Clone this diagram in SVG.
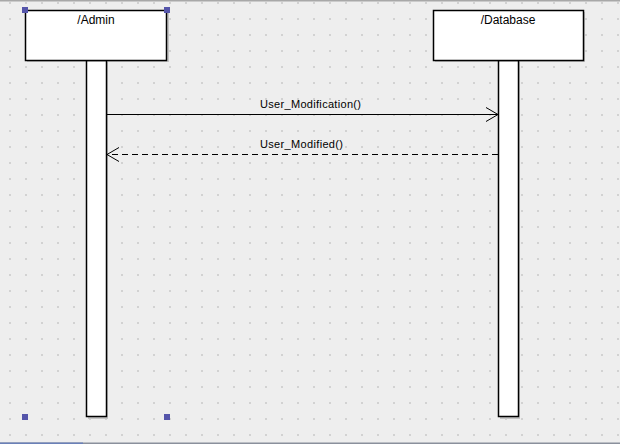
<svg xmlns="http://www.w3.org/2000/svg" width="620" height="444" viewBox="0 0 620 444">
<defs>
<pattern id="grid" patternUnits="userSpaceOnUse" x="0" y="0" width="16" height="16">
<rect x="9" y="2" width="2" height="2" fill="#d2d2d2"/>
</pattern>
<marker id="open" markerUnits="userSpaceOnUse" markerWidth="16" markerHeight="18" refX="13" refY="8" orient="auto">
<path d="M1,1 L13,8 L1,15" fill="none" stroke="#000" stroke-width="1"/>
</marker>
<style>
.box{fill:#fff;stroke:#000;stroke-width:1.5}
.shadow{fill:#c4c4c4}
.title{font-family:"Liberation Sans",Arial,sans-serif;font-size:12px;fill:#000;text-anchor:middle}
.lbl{font-family:"Liberation Sans",Arial,sans-serif;font-size:11px;fill:#000}
.msg{stroke:#000;stroke-width:1;fill:none}
.dash{stroke-dasharray:6,4}
.handle{fill:#5555aa}
</style>
</defs>
<rect x="0" y="0" width="620" height="444" fill="#eeeeee"/>
<rect x="0" y="0" width="620" height="444" fill="url(#grid)"/>
<rect x="0" y="0" width="620" height="1.5" fill="#a8a8a8"/>
<rect x="0" y="442.5" width="620" height="1.5" fill="#8a909c"/>
<rect x="0" y="442.5" width="83" height="1.5" fill="#6a80b8"/>

<g id="admin">
<rect class="shadow" x="88" y="62" width="20" height="357"/>
<rect class="shadow" x="27" y="12" width="142" height="50"/>
<rect class="box" x="86.5" y="60.5" width="20" height="356"/>
<rect class="box" x="25.5" y="10.5" width="141" height="50"/>
<text class="title" x="96" y="24">/Admin</text>
</g>

<g id="database">
<rect class="shadow" x="500" y="62" width="20" height="357"/>
<rect class="shadow" x="435" y="12" width="150" height="50"/>
<rect class="box" x="498.5" y="60.5" width="20" height="356"/>
<rect class="box" x="433.5" y="10.5" width="150" height="50"/>
<text class="title" x="508" y="24">/Database</text>
</g>

<g id="connectors">
<line class="msg" x1="107" y1="114.5" x2="498" y2="114.5" marker-end="url(#open)"/>
<text class="lbl" x="260" y="108" textLength="101" lengthAdjust="spacing">User_Modification()</text>
<line class="msg dash" x1="498" y1="154.5" x2="107" y2="154.5" marker-end="url(#open)"/>
<text class="lbl" x="260" y="148" textLength="83" lengthAdjust="spacing">User_Modified()</text>
</g>

<g id="selection">
<rect class="handle" x="22" y="7" width="6" height="6"/>
<rect class="handle" x="164" y="7" width="6" height="6"/>
<rect class="handle" x="22" y="414" width="6" height="6"/>
<rect class="handle" x="164" y="414" width="6" height="6"/>
</g>
</svg>
